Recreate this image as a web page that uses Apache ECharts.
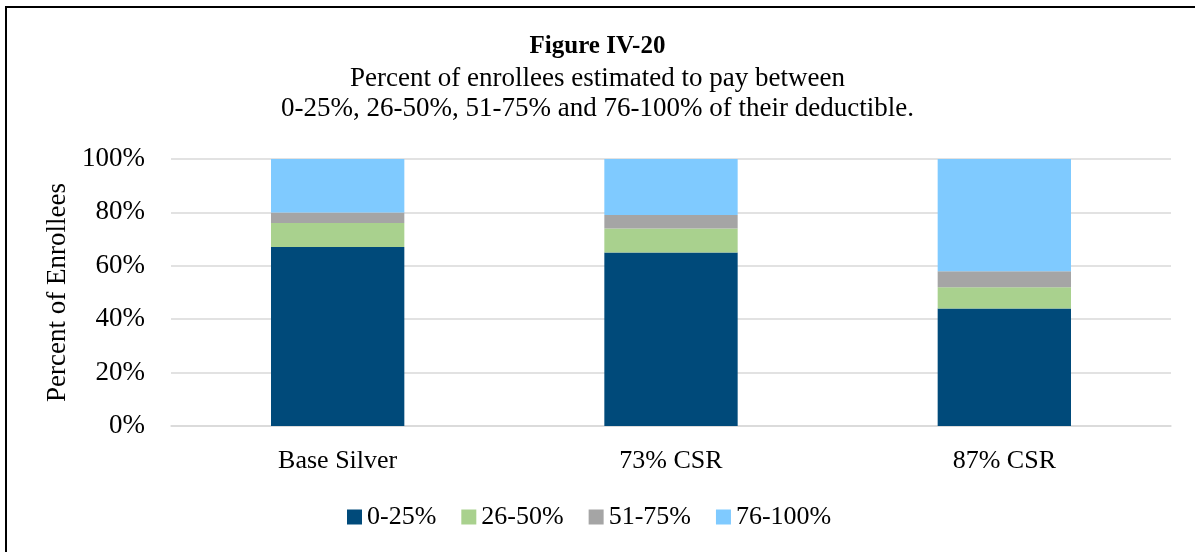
<!DOCTYPE html>
<html>
<head>
<meta charset="utf-8">
<script src="https://cdn.jsdelivr.net/npm/echarts@6/dist/echarts.min.js"></script>
<style>
    html, body { margin: 0; padding: 0; background: #fff; overflow: hidden; }
    #frame {
        position: absolute; left: 5px; top: 6px; width: 1200px; height: 560px;
        border-left: 2px solid #000; border-top: 2px solid #000;
    }
    #chart { position: absolute; left: 0; top: 0; width: 1195px; height: 552px; }
</style>
</head>
<body>
<div id="frame"></div>
<div id="chart"></div>
<script>
    // 数据
    var categories = ['Base Silver', '73% CSR', '87% CSR'];
    var seriesNames = ['0-25%', '26-50%', '51-75%', '76-100%'];
    var pay0to25 = [67, 65, 44];
    var pay26to50 = [9, 9, 8];
    var pay51to75 = [4, 5, 6];
    var pay76to100 = [20, 21, 42];
    var yTicks = [0, 20, 40, 60, 80, 100];

    var colors = ['#004a7a', '#a9d18e', '#a5a5a5', '#7fcaff'];
    var font = '"Liberation Serif", "DejaVu Serif", serif';
    var values = [pay0to25, pay26to50, pay51to75, pay76to100];

    var myChart = echarts.init(document.getElementById('chart'), null, {renderer: 'canvas'});
    var option = {
        animation: false,
        color: colors,
        title: {
            left: 'center',
            top: 29,
            text: 'Figure IV-20',
            textStyle: {fontFamily: font, fontSize: 25, fontWeight: 'bold', color: '#000'},
            subtext: 'Percent of enrollees estimated to pay between\n0-25%, 26-50%, 51-75% and 76-100% of their deductible.',
            subtextStyle: {fontFamily: font, fontSize: 27, color: '#000', lineHeight: 30, align: 'center'},
            itemGap: 5
        },
        grid: {left: 171, right: 24, top: 159, bottom: 126},
        legend: {
            bottom: 17,
            left: 342,
            itemWidth: 15,
            itemHeight: 15,
            itemGap: 25,
            icon: 'rect',
            textStyle: {fontFamily: font, fontSize: 26, color: '#000'},
            data: seriesNames
        },
        xAxis: {
            type: 'category',
            data: categories,
            axisLine: {lineStyle: {color: '#d9d9d9', width: 1.5}},
            axisTick: {show: false},
            axisLabel: {fontFamily: font, fontSize: 26, color: '#000', margin: 22}
        },
        yAxis: {
            type: 'value',
            min: yTicks[0],
            max: yTicks[yTicks.length - 1],
            interval: 20,
            name: 'Percent of Enrollees',
            nameLocation: 'middle',
            nameGap: 85,
            nameTextStyle: {fontFamily: font, fontSize: 27, color: '#000'},
            axisLine: {show: false},
            axisTick: {show: false},
            axisLabel: {fontFamily: font, fontSize: 27, color: '#000', margin: 26,
                formatter: function(v){ return v + '%'; }},
            splitLine: {lineStyle: {color: '#d9d9d9', width: 1.5}}
        },
        series: seriesNames.map(function(name, i){
            return {
                name: name,
                type: 'bar',
                stack: 'total',
                barWidth: '40%',
                data: values[i]
            };
        })
    };
    myChart.setOption(option);
</script>
</body>
</html>
